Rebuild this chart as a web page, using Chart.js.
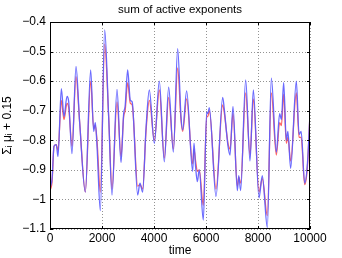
<!DOCTYPE html>
<html>
<head>
<meta charset="utf-8">
<script src="https://cdn.jsdelivr.net/npm/chart.js@4"></script>
<style>
html,body{margin:0;padding:0;background:#fff;}
#wrap{width:342px;height:258px;}
</style>
</head>
<body>
<div id="wrap"><canvas id="c" width="342" height="258"></canvas></div>
<script>
const times = [0,80,154,240,308,436,538,654,720,846,1000,1141,1359,1564,1680,1743,1808,1936,2103,2256,2385,2577,2731,2833,2890,2987,3090,3160,3372,3460,3564,3692,3820,4013,4205,4397,4564,4744,4910,5038,5103,5256,5487,5538,5600,5667,5740,5897,6026,6070,6128,6385,6641,6692,6846,6923,7038,7205,7260,7333,7526,7692,7821,8038,8166,8359,8513,8705,8833,8900,8987,9090,9150,9256,9474,9580,9660,9795,9900,10000];
const blueSeries = [-0.96,-0.93,-0.82,-0.815,-0.855,-0.625,-0.72,-0.652,-0.67,-0.845,-0.55,-0.74,-0.975,-0.562,-0.77,-0.74,-0.82,-1.038,-0.427,-0.72,-0.985,-0.628,-0.875,-0.71,-0.685,-0.562,-0.665,-0.67,-0.985,-0.945,-0.975,-0.76,-0.63,-0.81,-0.6,-0.873,-0.62,-0.84,-0.49,-0.72,-0.765,-0.633,-0.905,-0.81,-0.89,-0.94,-0.9,-1.07,-0.705,-0.71,-0.69,-0.99,-0.655,-0.685,-0.82,-0.85,-0.685,-0.97,-0.92,-0.97,-0.596,-0.87,-0.63,-0.995,-0.92,-1.095,-0.59,-0.84,-0.71,-0.73,-0.605,-0.8,-0.77,-0.895,-0.6,-0.78,-0.77,-0.945,-0.88,-0.71];
const redSeries = [-0.97,-0.94,-0.82,-0.815,-0.835,-0.665,-0.73,-0.675,-0.69,-0.82,-0.585,-0.74,-0.975,-0.6,-0.76,-0.75,-0.8,-0.975,-0.475,-0.72,-0.965,-0.67,-0.855,-0.72,-0.7,-0.605,-0.675,-0.68,-0.955,-0.95,-0.965,-0.77,-0.665,-0.8,-0.63,-0.86,-0.655,-0.83,-0.555,-0.73,-0.77,-0.66,-0.88,-0.83,-0.87,-0.905,-0.9,-1.02,-0.72,-0.72,-0.7,-0.965,-0.68,-0.7,-0.81,-0.83,-0.71,-0.955,-0.925,-0.945,-0.64,-0.85,-0.66,-0.975,-0.93,-1.055,-0.64,-0.85,-0.74,-0.75,-0.645,-0.81,-0.79,-0.87,-0.64,-0.79,-0.79,-0.95,-0.89,-0.71];
const xTicks = [0,2000,4000,6000,8000,10000];
const yTicks = [-1.1,-1,-0.9,-0.8,-0.7,-0.6,-0.5,-0.4];
const chartTitle = 'sum of active exponents';

const FONT = '"Liberation Sans", Arial, Helvetica, sans-serif';
const pairs = arr => arr.map((v,i)=>({x:times[i], y:v}));
const fmt = v => { const r = Math.round(v*10)/10; return String(r).replace('-', '\u2212'); };

const gridPlugin = {
  id:'dotgrid',
  beforeDatasetsDraw(chart){
    const {ctx, chartArea:a, scales} = chart;
    ctx.save();
    ctx.strokeStyle = 'rgba(120,120,120,0.8)';
    ctx.lineWidth = 1;
    ctx.setLineDash([1,2]);
    ctx.beginPath();
    xTicks.forEach(t=>{
      const px = Math.round(scales.x.getPixelForValue(t))+0.5;
      ctx.moveTo(px, a.top); ctx.lineTo(px, a.bottom);
    });
    yTicks.forEach(t=>{
      const py = Math.round(scales.y.getPixelForValue(t))+0.5;
      ctx.moveTo(a.left, py); ctx.lineTo(a.right, py);
    });
    ctx.stroke();
    ctx.restore();
  }
};

const framePlugin = {
  id:'frame',
  afterDraw(chart){
    const {ctx, chartArea:a, scales} = chart;
    ctx.save();
    ctx.strokeStyle = '#000';
    ctx.lineWidth = 1;
    ctx.strokeRect(a.left+0.5, a.top+0.5, a.right-a.left-1, a.bottom-a.top-1);
    ctx.beginPath();
    xTicks.forEach(t=>{
      const px = Math.round(scales.x.getPixelForValue(t))+0.5;
      ctx.moveTo(px, a.bottom); ctx.lineTo(px, a.bottom-3);
      ctx.moveTo(px, a.top); ctx.lineTo(px, a.top+3);
    });
    yTicks.forEach(t=>{
      const py = Math.round(scales.y.getPixelForValue(t))+0.5;
      ctx.moveTo(a.left, py); ctx.lineTo(a.left+3, py);
      ctx.moveTo(a.right, py); ctx.lineTo(a.right-3, py);
    });
    ctx.stroke();
    ctx.fillStyle = '#000';
    ctx.font = '11.5px ' + FONT;
    ctx.textAlign = 'center';
    ctx.textBaseline = 'middle';
    ctx.fillText(chartTitle, (a.left+a.right)/2, 10);
    ctx.restore();
  }
};

new Chart(document.getElementById('c'), {
  type:'line',
  data:{
    datasets:[
      {data:pairs(blueSeries), borderColor:'rgba(90,90,255,0.9)', borderWidth:1.3, pointRadius:0, cubicInterpolationMode:'monotone', fill:false},
      {data:pairs(redSeries), borderColor:'rgba(255,60,60,0.8)', borderWidth:1.3, pointRadius:0, cubicInterpolationMode:'monotone', fill:false}
    ]
  },
  options:{
    responsive:false,
    animation:false,
    devicePixelRatio:1,
    layout:{padding:{left:0,right:32,top:22,bottom:0}},
    plugins:{
      legend:{display:false},
      tooltip:{enabled:false},
      title:{display:false}
    },
    scales:{
      x:{
        type:'linear', min:0, max:10000,
        afterBuildTicks(s){ s.ticks = xTicks.map(v=>({value:v})); },
        afterFit(s){ s.height = 29; },
        ticks:{color:'#000', font:{family:FONT,size:12}, padding:2, maxRotation:0, callback:v=>String(v)},
        grid:{display:false, drawTicks:false},
        border:{display:false},
        title:{display:true, text:'time', color:'#000', font:{family:FONT,size:12}, padding:{top:0,bottom:0}}
      },
      y:{
        type:'linear', min:-1.1, max:-0.4,
        afterBuildTicks(s){ s.ticks = yTicks.map(v=>({value:v})); },
        afterFit(s){ s.width = 50; },
        ticks:{color:'#000', font:{family:FONT,size:12}, padding:4, callback:v=>fmt(v)},
        grid:{display:false, drawTicks:false},
        border:{display:false},
        title:{display:true, text:'\u03A3\u1D62 \u03BC\u1D62 + 0.15', color:'#000', font:{family:FONT,size:12}, padding:{top:0,bottom:2}}
      }
    }
  },
  plugins:[gridPlugin, framePlugin]
});
</script>
</body>
</html>
